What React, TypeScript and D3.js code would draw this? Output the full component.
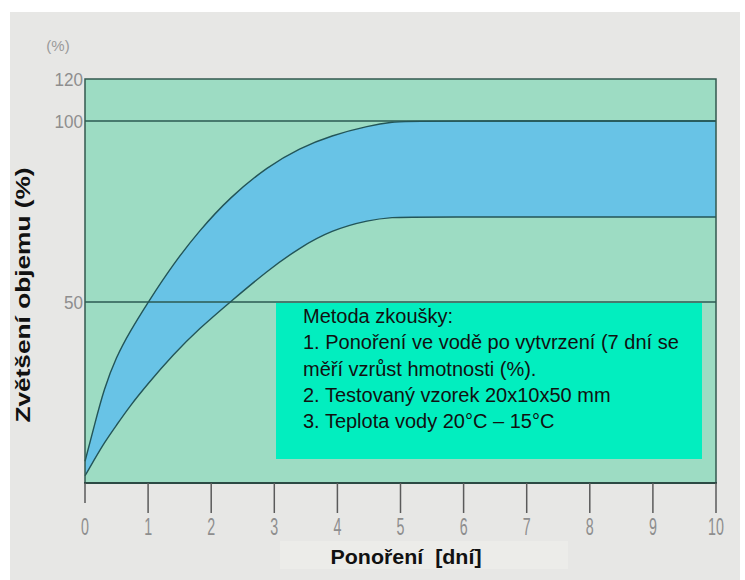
import React, { useEffect, useRef } from "react";
import * as d3 from "d3";

// swelling band (days of immersion vs. volume increase %)
const days = [0, 0.15, 0.3, 0.5, 0.7, 1.0, 1.4, 1.8, 2.3, 2.9, 3.4, 3.9, 4.5, 4.9, 5.1, 10];
const upperValues = [6, 16, 26, 35, 41.5, 50, 60.5, 69.5, 79, 87.5, 92.5, 96, 98.7, 99.8, 100, 100];
const lowerValues = [2, 6.5, 11, 16, 21, 27.5, 35.5, 42.5, 50, 58.8, 65, 69.8, 72.7, 73.4, 73.5, 73.5];

const xTicks = [0, 1, 2, 3, 4, 5, 6, 7, 8, 9, 10];
const yTicks = [50, 100, 120];
const gridValues = [50, 100];

const noteLines = [
  "Metoda zkoušky:",
  "1. Ponoření ve vodě po vytvrzení (7 dní se",
  "měří vzrůst hmotnosti (%).",
  "2. Testovaný vzorek 20x10x50 mm",
  "3. Teplota vody 20°C – 15°C",
];

const xTitle = "Ponoření  [dní]";
const yTitle = "Zvětšení objemu (%)";
const yUnit = "(%)";

const App: React.FC = () => {
  const svgRef = useRef<SVGSVGElement | null>(null);

  const width = 745;
  const height = 580;
  const plot = { left: 85, right: 716, top: 79, bottom: 483 };
  const font = "'Liberation Sans', Arial, sans-serif";

  useEffect(() => {
    const svg = d3.select(svgRef.current);
    svg.selectAll("*").remove();

    const x = d3.scaleLinear().domain([0, 10]).range([plot.left, plot.right]);
    // the printed axis is not linear above 100
    const y = d3
      .scaleLinear()
      .domain([0, 50, 100, 120])
      .range([plot.bottom, 302, 121, plot.top]);

    const rows = days.map((d, i) => ({
      day: d,
      hi: upperValues[i],
      lo: lowerValues[i],
    }));

    svg.append("rect").attr("width", width).attr("height", height).attr("fill", "#ffffff");
    svg
      .append("rect")
      .attr("x", 10)
      .attr("y", 12)
      .attr("width", 730)
      .attr("height", height - 12)
      .attr("fill", "#e7e7e5");

    // plot background
    svg
      .append("rect")
      .attr("x", plot.left)
      .attr("y", plot.top)
      .attr("width", plot.right - plot.left)
      .attr("height", plot.bottom - plot.top)
      .attr("fill", "#9ddcc3");

    const area = d3
      .area<any>()
      .x((d) => x(d.day))
      .y0((d) => y(d.lo))
      .y1((d) => y(d.hi))
      .curve(d3.curveBasis);

    svg.append("path").attr("d", area(rows) as string).attr("fill", "#68c3e6");

    // grid lines
    svg
      .selectAll(".grid")
      .data(gridValues)
      .join("line")
      .attr("x1", plot.left)
      .attr("x2", plot.right)
      .attr("y1", (d) => y(d))
      .attr("y2", (d) => y(d))
      .attr("stroke", "#2b5a52")
      .attr("stroke-width", 1.6);

    const lineHi = d3
      .line<any>()
      .x((d) => x(d.day))
      .y((d) => y(d.hi))
      .curve(d3.curveBasis);
    const lineLo = d3
      .line<any>()
      .x((d) => x(d.day))
      .y((d) => y(d.lo))
      .curve(d3.curveBasis);

    [lineHi, lineLo].forEach((ln) => {
      svg
        .append("path")
        .attr("d", ln(rows) as string)
        .attr("fill", "none")
        .attr("stroke", "#235558")
        .attr("stroke-width", 1.4);
    });

    // frame
    svg
      .append("rect")
      .attr("x", plot.left)
      .attr("y", plot.top)
      .attr("width", plot.right - plot.left)
      .attr("height", plot.bottom - plot.top)
      .attr("fill", "none")
      .attr("stroke", "#33594f")
      .attr("stroke-width", 1.5);
    svg
      .append("line")
      .attr("x1", plot.left - 1)
      .attr("x2", plot.right + 1)
      .attr("y1", plot.bottom)
      .attr("y2", plot.bottom)
      .attr("stroke", "#2c4a44")
      .attr("stroke-width", 2.2);

    // x ticks and labels
    const xt = svg.append("g");
    xt.selectAll("line")
      .data(xTicks)
      .join("line")
      .attr("x1", (d) => x(d))
      .attr("x2", (d) => x(d))
      .attr("y1", plot.bottom)
      .attr("y2", (d) => (d === 0 ? 503 : 513))
      .attr("stroke", "#5a5a5a")
      .attr("stroke-width", 1.5);
    xt.selectAll("text")
      .data(xTicks)
      .join("text")
      .attr("transform", (d) => `translate(${x(d)},535) scale(0.62,1)`)
      .attr("text-anchor", "middle")
      .style("font-family", font)
      .style("font-size", "23px")
      .attr("fill", "#8e8e8e")
      .text((d) => d);

    // y labels
    svg
      .append("g")
      .selectAll("text")
      .data(yTicks)
      .join("text")
      .attr("transform", (d) => `translate(83,${y(d) + 7}) scale(0.9,1)`)
      .attr("text-anchor", "end")
      .style("font-family", font)
      .style("font-size", "19px")
      .attr("fill", "#8e8e8e")
      .text((d) => d);

    svg
      .append("text")
      .attr("transform", "translate(58,51)")
      .attr("text-anchor", "middle")
      .style("font-family", font)
      .style("font-size", "15px")
      .attr("fill", "#9a9a9a")
      .text(yUnit);

    // note box
    svg
      .append("rect")
      .attr("x", 276)
      .attr("y", 303)
      .attr("width", 426)
      .attr("height", 156)
      .attr("fill", "#02eebf");

    svg
      .append("g")
      .selectAll("text")
      .data(noteLines)
      .join("text")
      .attr("transform", (_, i) => `translate(303,${323 + i * 26.3})`)
      .style("font-family", font)
      .style("font-size", "20px")
      .attr("fill", "#111")
      .text((d) => d);

    // axis titles
    svg
      .append("rect")
      .attr("x", 280)
      .attr("y", 541)
      .attr("width", 288)
      .attr("height", 28)
      .attr("fill", "#ecece9");
    svg
      .append("text")
      .attr("transform", "translate(406,564) scale(1.02,1)")
      .attr("text-anchor", "middle")
      .style("font-family", font)
      .style("font-size", "21px")
      .style("font-weight", "bold")
      .style("white-space", "pre")
      .attr("fill", "#111")
      .text(xTitle);

    svg
      .append("text")
      .attr("transform", "translate(30,295) rotate(-90) scale(1.25,1)")
      .attr("text-anchor", "middle")
      .style("font-family", font)
      .style("font-size", "21px")
      .style("font-weight", "bold")
      .attr("fill", "#111")
      .text(yTitle);
  }, []);

  return (
    <svg
      ref={svgRef}
      width={width}
      height={height}
      style={{ position: "absolute", left: 0, top: 0, display: "block" }}
    />
  );
};

export default App;
